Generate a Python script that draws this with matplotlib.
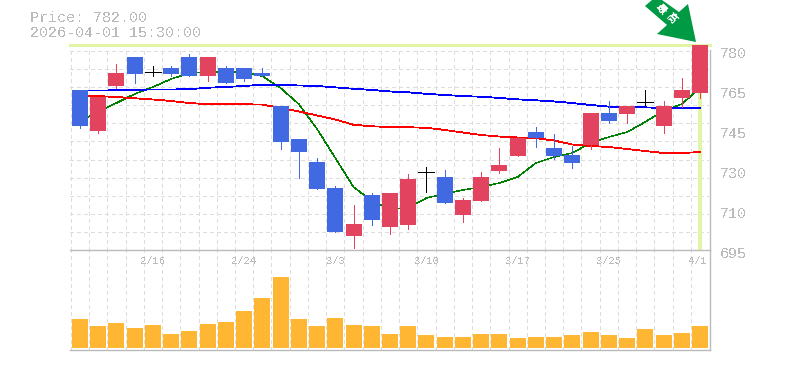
import numpy as np
import matplotlib
matplotlib.use("Agg")
import matplotlib.pyplot as plt
from matplotlib.patches import Polygon
from matplotlib.transforms import ScaledTranslation

plt.rcParams['font.family'] = ['Liberation Mono', 'DejaVu Sans Mono']
plt.rcParams['text.antialiased'] = False

# candles
opens = [762.9, 745.5, 764.6, 776.9, 770.5, 772.2, 776.9, 768.8, 772.2, 772.2, 770.1, 756.1,
         742.0, 732.3, 721.2, 700.8, 718.3, 704.7, 705.5, 728.0, 725.9, 709.8, 715.7, 728.5,
         734.8, 745.0, 738.2, 735.3, 739.5, 753.1, 752.7, 757.8, 747.6, 759.5, 761.6]
closes = [747.6, 760.0, 770.1, 769.7, 770.5, 769.7, 768.8, 776.9, 765.9, 767.6, 768.8, 740.8,
          736.5, 720.8, 702.5, 705.9, 707.6, 719.1, 725.0, 728.0, 714.9, 716.1, 725.9, 731.0,
          742.5, 742.5, 734.8, 731.9, 753.1, 749.7, 756.1, 757.8, 756.1, 762.9, 782.0]
highs = [762.9, 760.0, 773.9, 776.9, 773.1, 773.1, 778.2, 776.9, 773.1, 772.2, 772.2, 756.1,
         742.0, 734.0, 722.0, 714.0, 719.1, 719.1, 727.2, 730.15, 728.9, 717.0, 728.0, 738.2,
         742.9, 747.2, 744.2, 739.1, 753.1, 758.2, 756.1, 762.9, 758.2, 768.0, 782.0]
lows = [746.9, 744.7, 763.9, 765.9, 768.8, 768.8, 768.8, 766.7, 765.9, 766.7, 768.8, 737.8,
        725.5, 720.8, 702.5, 695.7, 705.5, 701.7, 703.8, 719.5, 714.9, 706.8, 715.7, 727.6,
        734.8, 738.7, 733.6, 729.7, 737.8, 748.9, 748.9, 756.5, 744.6, 755.7, 759.5]

# moving averages
ma_short = [749.7, 753.5, 757.35, 761.2, 764.15, 767.55, 770.1, 770.5, 770.5, 770.5, 768.8, 763.7,
            756.9, 746.3, 734.0, 721.65, 715.7, 712.3, 712.75, 717.0, 718.7, 720.4, 721.65, 723.35,
            725.9, 731.85, 734.4, 736.1, 740.35, 742.9, 745.0, 749.3, 754.0, 756.9, 763.7]
ma_mid = [760.3, 760.3, 759.9, 759.35, 758.85, 758.2, 757.35, 756.85, 756.8, 756.8, 756.7, 755.2,
          753.75, 752.05, 750.35, 748.1, 747.45, 747.15, 747.05, 746.8, 745.9, 744.8, 743.75, 743.1,
          742.7, 742.4, 741.4, 739.7, 739.1, 738.65, 737.8, 736.95, 736.1, 736.1, 736.5]
ma_long = [762.65, 762.65, 762.75, 762.95, 763.1, 763.1, 763.2, 763.85, 764.15, 764.6, 765.1, 765.0,
           764.8, 764.6, 764.0, 763.4, 762.9, 762.25, 761.9, 761.25, 760.75, 760.3, 760.0, 759.5,
           758.9, 758.5, 758.0, 757.35, 756.5, 755.8, 755.65, 755.5, 755.2, 755.1, 755.1]

volumes = [29, 22, 25, 20, 23, 14, 17, 24, 26, 37, 50, 71, 29, 22, 30, 23, 22, 14,
           22, 13, 11, 11, 14, 14, 10, 11, 11, 13, 16, 13, 10, 19, 13, 15, 22]

price_ticks = [780, 763, 746, 729, 712, 695]
price_labels = ['780', '765', '745', '730', '710', '695']
date_idx = [4, 9, 14, 19, 24, 29, 33.9]
date_labels = ['2/16', '2/24', '3/3', '3/10', '3/17', '3/25', '4/1']

GRID = '#dddddd'
AXIS = '#bbbbbb'
TEXT = '#bbbbbb'
RED = '#e2445f'
BLUE = '#4169e1'
LIME = '#e2f5a6'
W, H = 785, 370
BODY = 16 / 18.235
PX = 0.72  # one pixel in points

fig = plt.figure(figsize=(W / 100, H / 100), dpi=100)
ax = fig.add_axes([70 / W, 1 - 250 / H, 640 / W, 205 / H])
vol = fig.add_axes([70 / W, 1 - 350 / H, 640 / W, 100 / H])
top = fig.add_axes([0, 0, 1, 1], zorder=5)
top.set_xlim(0, W)
top.set_ylim(H, 0)
top.axis('off')

x = np.arange(len(closes))
xlim = (-0.548, 34.55)
dash = (0, (4, 3))

# price panel
ax.set_xlim(*xlim)
ax.set_ylim(694.875, 782)
for g in np.arange(779.45, 700, -7.69):
    ax.hlines(g, xlim[0], 34.45, color=GRID, lw=PX, ls=dash, antialiased=False, zorder=1)
ax.vlines(x - 0.5, 694.875, 780, color=GRID, lw=PX, ls=dash, antialiased=False, zorder=1)

ax.axhline(782, color=LIME, lw=3 * PX, clip_on=False, antialiased=False, zorder=2)
ax.vlines(x[-1], 694.875, 782, color=LIME, lw=3.6 * PX, antialiased=False, zorder=2)

ax.plot(x, ma_short, color='green', lw=0.5 * PX, antialiased=False, zorder=3)
ax.plot(x, ma_long, color='blue', lw=0.8 * PX, antialiased=False, zorder=3)
ax.plot(x, ma_mid, color='red', lw=0.8 * PX, antialiased=False, zorder=3)

for i in x:
    o, c = opens[i], closes[i]
    col = RED if c > o else BLUE if c < o else 'black'
    ax.vlines(i, lows[i], highs[i], color=col, lw=PX, antialiased=False, zorder=4, clip_on=False)
    if c == o:
        ax.hlines(c, i - BODY / 2, i + BODY / 2, color=col, lw=PX, antialiased=False, zorder=4)
    else:
        ax.bar(i, abs(c - o), bottom=min(o, c), width=BODY, color=col, lw=0, zorder=4, clip_on=False)

ax.yaxis.tick_right()
ax.set_yticks(price_ticks)
ax.set_yticklabels(price_labels, fontsize=10.8, color=TEXT)
ax.tick_params(axis='y', length=0, pad=7)
ax.tick_params(axis='x', length=0, labelbottom=False)
shift = ScaledTranslation(0, -2.5 / 100, fig.dpi_scale_trans)
for lab in ax.get_yticklabels():
    lab.set_transform(lab.get_transform() + shift)
for s in ['top', 'left', 'bottom']:
    ax.spines[s].set_visible(False)
ax.spines['right'].set_color(AXIS)
ax.spines['right'].set_linewidth(PX * 1.4)
ax.spines['right'].set_bounds(694.875, 780)

# volume panel
vol.set_xlim(*xlim)
vol.set_ylim(-2, 98)
vol.vlines(x - 0.5, -2, 98, color=GRID, lw=PX, ls=dash, antialiased=False, zorder=1)
vol.bar(x, volumes, width=BODY, color='#ffb733', lw=0, zorder=2)
for i, lab in zip(date_idx, date_labels):
    vol.text(i, 87, lab, ha='center', va='center', fontsize=7.6, color=TEXT, zorder=3)
vol.set_xticks([])
vol.set_yticks([])
vol.spines['left'].set_visible(False)
for s in ['top', 'bottom', 'right']:
    vol.spines[s].set_color(AXIS)
    vol.spines[s].set_linewidth(PX * 1.4)

# header and the marker arrow
top.text(30, 18, 'Price: 782.00', fontsize=10.8, color=TEXT, ha='left', va='center')
top.text(30, 33, '2026-04-01 15:30:00', fontsize=10.8, color=TEXT, ha='left', va='center')
top.add_patch(Polygon([(645, 6), (652, 0), (662, 0), (679, 12), (688, 4), (696, 42), (657, 34), (667, 25)],
                      closed=True, color='#009944', lw=0))
for gx, gy, ch in [(661.5, 8.5, '最'), (672, 18.5, '高')]:
    top.text(gx, gy, ch, family='Noto Sans CJK JP', weight='bold', fontsize=7.5, color='white',
             rotation=-45, ha='center', va='center', rotation_mode='anchor')

fig.savefig('out.png', dpi=100)
